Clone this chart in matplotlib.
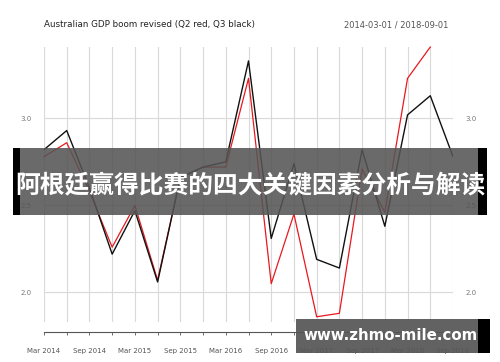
import matplotlib
matplotlib.use("Agg")
import matplotlib.pyplot as plt
from matplotlib.patches import Rectangle

quarters = ["Mar 2014", "Jun 2014", "Sep 2014", "Dec 2014", "Mar 2015", "Jun 2015",
            "Sep 2015", "Dec 2015", "Mar 2016", "Jun 2016", "Sep 2016", "Dec 2016",
            "Mar 2017", "Jun 2017", "Sep 2017", "Dec 2017", "Mar 2018", "Jun 2018",
            "Sep 2018"]
q3_black = [2.82, 2.93, 2.60, 2.22, 2.47, 2.06, 2.66, 2.72, 2.75, 3.33, 2.31, 2.74,
            2.19, 2.14, 2.82, 2.38, 3.02, 3.13, 2.78]
q2_red = [2.78, 2.86, 2.58, 2.26, 2.50, 2.07, 2.66, 2.72, 2.72, 3.23, 2.05, 2.45,
          1.86, 1.88, 2.71, 2.46, 3.23, 3.41]
yticks = [2.0, 2.5, 3.0]
title = "Australian GDP boom revised (Q2 red, Q3 black)"
date_range = "2014-03-01 / 2018-09-01"
banner = "阿根廷赢得比赛的四大关键因素分析与解读"
watermark = "www.zhmo-mile.com"

W, H = 500, 362
fig = plt.figure(figsize=(W / 100, H / 100), dpi=100)
fig.patch.set_facecolor("white")

def fx(px):
    return px / W

def fy(py):
    return 1 - py / H

ax = fig.add_axes([fx(44), fy(322), fx(453) - fx(44), fy(47) - fy(322)])
x = list(range(len(quarters)))
ax.set_xlim(0, len(quarters) - 1)
ax.set_ylim(1.83, 3.41)

for xi in x:
    ax.axvline(xi, color="#d9d9d9", lw=0.8, zorder=1)
for yv in yticks:
    ax.axhline(yv, color="#d9d9d9", lw=0.8, zorder=1)

ax.plot(x[:len(q2_red)], q2_red, color="#e8191e", lw=0.9, zorder=3, clip_on=False)
ax.plot(x, q3_black, color="#111111", lw=1.0, zorder=4)

for s in ["top", "left", "right"]:
    ax.spines[s].set_visible(False)
ax.spines["bottom"].set_position(("outward", 7.2))
ax.spines["bottom"].set_color("#555555")
ax.spines["bottom"].set_linewidth(0.8)
ax.set_xticks(x)
ax.set_xticklabels([q if i % 2 == 0 else "" for i, q in enumerate(quarters)])
ax.tick_params(axis="x", length=2.5, width=0.6, color="#555555", labelsize=5,
               labelcolor="#555555", pad=9)
ax.set_yticks(yticks)
ax.set_yticklabels(["%.1f" % v for v in yticks])
ax.tick_params(axis="y", length=0, labelsize=5, labelcolor="#777777", pad=9,
               labelright=True, right=False)
ax.set_facecolor("white")

fig.text(fx(44), fy(25), title, fontsize=6.3, color="#222222", ha="left", va="center")
fig.text(fx(448), fy(25), date_range, fontsize=6, color="#555555", ha="right", va="center")

# overlay banner
fig.patches.append(Rectangle((fx(13), fy(215)), fx(478) - fx(13), fy(148) - fy(215),
                             transform=fig.transFigure, facecolor="#555555", alpha=0.88,
                             edgecolor="none", zorder=10))
fig.patches.append(Rectangle((fx(13), fy(215)), fx(7), fy(148) - fy(215),
                             transform=fig.transFigure, facecolor="black",
                             edgecolor="none", zorder=11))
fig.patches.append(Rectangle((fx(478), fy(215)), fx(9), fy(148) - fy(215),
                             transform=fig.transFigure, facecolor="black",
                             edgecolor="none", zorder=11))
fig.text(fx(250), fy(185), banner, fontsize=17.8, color="white", fontweight="bold",
         family=["Noto Sans CJK SC", "DejaVu Sans"], ha="center", va="center", zorder=12)

# watermark
fig.patches.append(Rectangle((fx(296), fy(353)), fx(478) - fx(296), fy(319) - fy(353),
                             transform=fig.transFigure, facecolor="#555555", alpha=0.92,
                             edgecolor="none", zorder=10))
fig.patches.append(Rectangle((fx(478), fy(353)), fx(12), fy(319) - fy(353),
                             transform=fig.transFigure, facecolor="black",
                             edgecolor="none", zorder=11))
fig.text(fx(391), fy(336), watermark, fontsize=10.8, color="white", fontweight="bold",
         ha="center", va="center", zorder=12)

fig.savefig("out.png", dpi=100, facecolor="white")
